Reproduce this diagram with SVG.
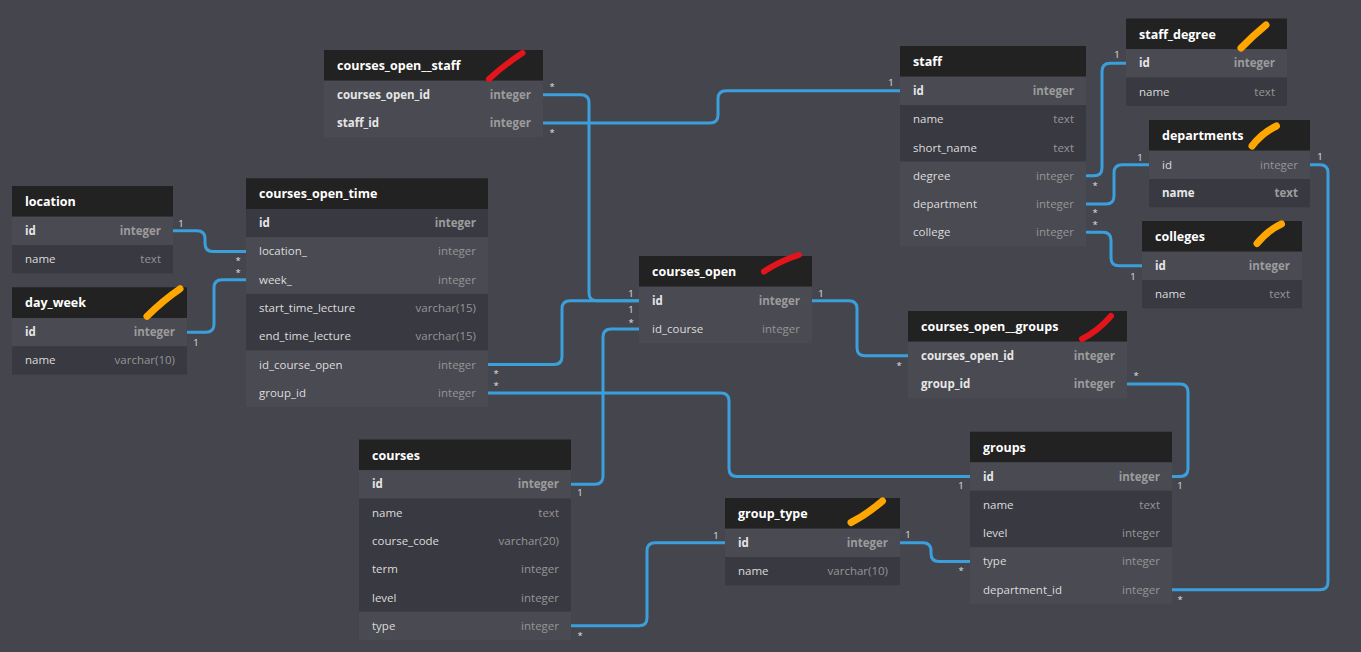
<svg xmlns="http://www.w3.org/2000/svg" width="1361" height="652" viewBox="0 0 1361 652">
<style>
.hd{fill:#222222}
.lt{fill:#4a4a52}
.dk{fill:#393941}
.tt{font-family:"Open Sans","Noto Sans",sans-serif;font-size:12.5px;font-weight:bold;fill:#ffffff}
.f{font-family:"Open Sans","Noto Sans",sans-serif;font-size:11.5px;fill:#dcdcdc}
.fb{font-family:"Open Sans","Noto Sans",sans-serif;font-size:11.5px;font-weight:bold;fill:#e6e6e6}
.ty{font-family:"Open Sans","Noto Sans",sans-serif;font-size:11.5px;fill:#959595;text-anchor:end}
.tyb{font-family:"Open Sans","Noto Sans",sans-serif;font-size:11.5px;font-weight:bold;fill:#9c9c9c;text-anchor:end}
.c{fill:none;stroke:#3a9fdb;stroke-width:3}
.l{font-family:"Open Sans","Noto Sans",sans-serif;font-size:9.5px;fill:#e0e0e0;text-anchor:middle}
.red{fill:none;stroke:#e3151b;stroke-width:6;stroke-linecap:round}
.org{fill:none;stroke:#ffa600;stroke-width:7;stroke-linecap:round}
</style>
<rect width="1361" height="652" fill="#45454d"/>

<g id="connectors">
<path class="c" d="M173,230.8 H197 Q205,230.8 205,238.8 V243.4 Q205,251.4 213,251.4 H246"/>
<path class="c" d="M187,332.2 H206 Q214,332.2 214,324.2 V287.7 Q214,279.7 222,279.7 H246"/>
<path class="c" d="M543,94.8 H581 Q589,94.8 589,102.8 V292.8 Q589,300.8 597,300.8 H639"/>
<path class="c" d="M488,364.6 H554 Q562,364.6 562,356.6 V308.8 Q562,300.8 570,300.8 H639"/>
<path class="c" d="M543,123.1 H710 Q718,123.1 718,115.1 V98.8 Q718,90.8 726,90.8 H900"/>
<path class="c" d="M571,484.3 H595 Q603,484.3 603,476.3 V337.1 Q603,329.1 611,329.1 H639"/>
<path class="c" d="M812,300.8 H849 Q857,300.8 857,308.8 V347.8 Q857,355.8 865,355.8 H908"/>
<path class="c" d="M1127,384.1 H1180 Q1188,384.1 1188,392.1 V468.5 Q1188,476.5 1180,476.5 H1172"/>
<path class="c" d="M488,392.9 H721 Q729,392.9 729,400.9 V468.5 Q729,476.5 737,476.5 H970"/>
<path class="c" d="M1172,589.7 H1320 Q1328,589.7 1328,581.7 V172.8 Q1328,164.8 1320,164.8 H1310"/>
<path class="c" d="M900,542.8 H923 Q931,542.8 931,550.8 V553.4 Q931,561.4 939,561.4 H970"/>
<path class="c" d="M571,625.8 H639 Q647,625.8 647,617.8 V550.8 Q647,542.8 655,542.8 H725"/>
<path class="c" d="M1086,175.7 H1094 Q1102,175.7 1102,167.7 V71.3 Q1102,63.3 1110,63.3 H1126"/>
<path class="c" d="M1086,204 H1106 Q1114,204 1114,196 V172.8 Q1114,164.8 1122,164.8 H1149"/>
<path class="c" d="M1086,232.3 H1103 Q1111,232.3 1111,240.3 V257.8 Q1111,265.8 1119,265.8 H1142"/>
<text class="l" x="181" y="226.5">1</text>
<text class="l" x="238" y="263.5">*</text>
<text class="l" x="196" y="345.5">1</text>
<text class="l" x="238" y="275.5">*</text>
<text class="l" x="552" y="90">*</text>
<text class="l" x="552" y="135.5">*</text>
<text class="l" x="891" y="85.5">1</text>
<text class="l" x="496" y="376.5">*</text>
<text class="l" x="496" y="389">*</text>
<text class="l" x="631" y="296.5">1</text>
<text class="l" x="631" y="313">1</text>
<text class="l" x="631" y="325.5">*</text>
<text class="l" x="580" y="495.5">1</text>
<text class="l" x="580" y="638.5">*</text>
<text class="l" x="716" y="538.5">1</text>
<text class="l" x="821" y="296.5">1</text>
<text class="l" x="899" y="368.5">*</text>
<text class="l" x="1136" y="378.5">*</text>
<text class="l" x="1180" y="488.5">1</text>
<text class="l" x="961" y="488.5">1</text>
<text class="l" x="908" y="538">1</text>
<text class="l" x="961" y="574">*</text>
<text class="l" x="1180" y="602.5">*</text>
<text class="l" x="1320" y="159.5">1</text>
<text class="l" x="1095" y="188.5">*</text>
<text class="l" x="1117" y="58">1</text>
<text class="l" x="1095" y="215.5">*</text>
<text class="l" x="1140" y="160.5">1</text>
<text class="l" x="1095" y="227.5">*</text>
<text class="l" x="1133" y="279.5">1</text>
</g>

<g id="location" transform="translate(12,186)">
<rect class="hd" width="161" height="30.7"/>
<rect class="lt" y="30.7" width="161" height="28.3"/>
<rect class="dk" y="59" width="161" height="28.3"/>
<text class="tt" x="13" y="20">location</text>
<text class="fb" x="13" y="48.9">id</text><text class="tyb" x="149" y="48.9">integer</text>
<text class="f" x="13" y="77.2">name</text><text class="ty" x="149" y="77.2">text</text>
</g>

<g id="day_week" transform="translate(12,287.3)">
<rect class="hd" width="175" height="30.7"/>
<rect class="lt" y="30.7" width="175" height="28.3"/>
<rect class="dk" y="59" width="175" height="28.3"/>
<text class="tt" x="13" y="20">day_week</text>
<text class="fb" x="13" y="48.9">id</text><text class="tyb" x="163" y="48.9">integer</text>
<text class="f" x="13" y="77.2">name</text><text class="ty" x="163" y="77.2">varchar(10)</text>
<path class="org" d="M135,29 Q151,13 168,1.5"/>
</g>

<g id="courses_open_time" transform="translate(246,178.3)">
<rect class="hd" width="242" height="30.7"/>
<rect class="dk" y="30.7" width="242" height="28.3"/>
<rect class="lt" y="59" width="242" height="56.6"/>
<rect class="dk" y="115.6" width="242" height="56.6"/>
<rect class="lt" y="172.2" width="242" height="56.6"/>
<text class="tt" x="13" y="20">courses_open_time</text>
<text class="fb" x="13" y="48.9">id</text><text class="tyb" x="230" y="48.9">integer</text>
<text class="f" x="13" y="77.2">location_</text><text class="ty" x="230" y="77.2">integer</text>
<text class="f" x="13" y="105.5">week_</text><text class="ty" x="230" y="105.5">integer</text>
<text class="f" x="13" y="133.8">start_time_lecture</text><text class="ty" x="230" y="133.8">varchar(15)</text>
<text class="f" x="13" y="162.1">end_time_lecture</text><text class="ty" x="230" y="162.1">varchar(15)</text>
<text class="f" x="13" y="190.4">id_course_open</text><text class="ty" x="230" y="190.4">integer</text>
<text class="f" x="13" y="218.7">group_id</text><text class="ty" x="230" y="218.7">integer</text>
</g>

<g id="courses_open__staff" transform="translate(324,50)">
<rect class="hd" width="219" height="30.7"/>
<rect class="lt" y="30.7" width="219" height="56.6"/>
<text class="tt" x="13" y="20">courses_open__staff</text>
<text class="fb" x="13" y="48.9">courses_open_id</text><text class="tyb" x="207" y="48.9">integer</text>
<text class="fb" x="13" y="77.2">staff_id</text><text class="tyb" x="207" y="77.2">integer</text>
<path class="red" d="M165,29 Q180,15 198.5,3"/>
</g>

<g id="staff" transform="translate(900,46)">
<rect class="hd" width="186" height="30.7"/>
<rect class="lt" y="30.7" width="186" height="28.3"/>
<rect class="dk" y="59" width="186" height="56.6"/>
<rect class="lt" y="115.6" width="186" height="84.9"/>
<text class="tt" x="13" y="20">staff</text>
<text class="fb" x="13" y="48.9">id</text><text class="tyb" x="174" y="48.9">integer</text>
<text class="f" x="13" y="77.2">name</text><text class="ty" x="174" y="77.2">text</text>
<text class="f" x="13" y="105.5">short_name</text><text class="ty" x="174" y="105.5">text</text>
<text class="f" x="13" y="133.8">degree</text><text class="ty" x="174" y="133.8">integer</text>
<text class="f" x="13" y="162.1">department</text><text class="ty" x="174" y="162.1">integer</text>
<text class="f" x="13" y="190.4">college</text><text class="ty" x="174" y="190.4">integer</text>
</g>

<g id="staff_degree" transform="translate(1126,18.5)">
<rect class="hd" width="161" height="30.7"/>
<rect class="lt" y="30.7" width="161" height="28.3"/>
<rect class="dk" y="59" width="161" height="28.3"/>
<text class="tt" x="13" y="20">staff_degree</text>
<text class="fb" x="13" y="48.9">id</text><text class="tyb" x="149" y="48.9">integer</text>
<text class="f" x="13" y="77.2">name</text><text class="ty" x="149" y="77.2">text</text>
<path class="org" d="M115,29.5 Q126,18 140,6.5"/>
</g>

<g id="departments" transform="translate(1149,120)">
<rect class="hd" width="161" height="30.7"/>
<rect class="lt" y="30.7" width="161" height="28.3"/>
<rect class="dk" y="59" width="161" height="28.3"/>
<text class="tt" x="13" y="20">departments</text>
<text class="f" x="13" y="48.9">id</text><text class="ty" x="149" y="48.9">integer</text>
<text class="fb" x="13" y="77.2">name</text><text class="tyb" x="149" y="77.2">text</text>
<path class="org" d="M103,26 Q113,13 127.5,6"/>
</g>

<g id="colleges" transform="translate(1142,221)">
<rect class="hd" width="160" height="30.7"/>
<rect class="lt" y="30.7" width="160" height="28.3"/>
<rect class="dk" y="59" width="160" height="28.3"/>
<text class="tt" x="13" y="20">colleges</text>
<text class="fb" x="13" y="48.9">id</text><text class="tyb" x="148" y="48.9">integer</text>
<text class="f" x="13" y="77.2">name</text><text class="ty" x="148" y="77.2">text</text>
<path class="org" d="M115,22.5 Q126,9 139.5,3"/>
</g>

<g id="courses_open" transform="translate(639,256)">
<rect class="hd" width="173" height="30.7"/>
<rect class="lt" y="30.7" width="173" height="56.6"/>
<text class="tt" x="13" y="20">courses_open</text>
<text class="fb" x="13" y="48.9">id</text><text class="tyb" x="161" y="48.9">integer</text>
<text class="f" x="13" y="77.2">id_course</text><text class="ty" x="161" y="77.2">integer</text>
<path class="red" d="M125,15.5 Q141,5 160,-1"/>
</g>

<g id="courses_open__groups" transform="translate(908,311)">
<rect class="hd" width="219" height="30.7"/>
<rect class="lt" y="30.7" width="219" height="56.6"/>
<text class="tt" x="13" y="20">courses_open__groups</text>
<text class="fb" x="13" y="48.9">courses_open_id</text><text class="tyb" x="207" y="48.9">integer</text>
<text class="fb" x="13" y="77.2">group_id</text><text class="tyb" x="207" y="77.2">integer</text>
<path class="red" d="M174,28 Q190,20 203,5"/>
</g>

<g id="groups" transform="translate(970,431.7)">
<rect class="hd" width="202" height="30.7"/>
<rect class="lt" y="30.7" width="202" height="28.3"/>
<rect class="dk" y="59" width="202" height="56.6"/>
<rect class="lt" y="115.6" width="202" height="56.6"/>
<text class="tt" x="13" y="20">groups</text>
<text class="fb" x="13" y="48.9">id</text><text class="tyb" x="190" y="48.9">integer</text>
<text class="f" x="13" y="77.2">name</text><text class="ty" x="190" y="77.2">text</text>
<text class="f" x="13" y="105.5">level</text><text class="ty" x="190" y="105.5">integer</text>
<text class="f" x="13" y="133.8">type</text><text class="ty" x="190" y="133.8">integer</text>
<text class="f" x="13" y="162.1">department_id</text><text class="ty" x="190" y="162.1">integer</text>
</g>

<g id="courses" transform="translate(359,439.5)">
<rect class="hd" width="212" height="30.7"/>
<rect class="lt" y="30.7" width="212" height="28.3"/>
<rect class="dk" y="59" width="212" height="113.2"/>
<rect class="lt" y="172.2" width="212" height="28.3"/>
<text class="tt" x="13" y="20">courses</text>
<text class="fb" x="13" y="48.9">id</text><text class="tyb" x="200" y="48.9">integer</text>
<text class="f" x="13" y="77.2">name</text><text class="ty" x="200" y="77.2">text</text>
<text class="f" x="13" y="105.5">course_code</text><text class="ty" x="200" y="105.5">varchar(20)</text>
<text class="f" x="13" y="133.8">term</text><text class="ty" x="200" y="133.8">integer</text>
<text class="f" x="13" y="162.1">level</text><text class="ty" x="200" y="162.1">integer</text>
<text class="f" x="13" y="190.4">type</text><text class="ty" x="200" y="190.4">integer</text>
</g>

<g id="group_type" transform="translate(725,498)">
<rect class="hd" width="175" height="30.7"/>
<rect class="lt" y="30.7" width="175" height="28.3"/>
<rect class="dk" y="59" width="175" height="28.3"/>
<text class="tt" x="13" y="20">group_type</text>
<text class="fb" x="13" y="48.9">id</text><text class="tyb" x="163" y="48.9">integer</text>
<text class="f" x="13" y="77.2">name</text><text class="ty" x="163" y="77.2">varchar(10)</text>
<path class="org" d="M126,24.5 Q141,17 157.5,3"/>
</g>
</svg>
